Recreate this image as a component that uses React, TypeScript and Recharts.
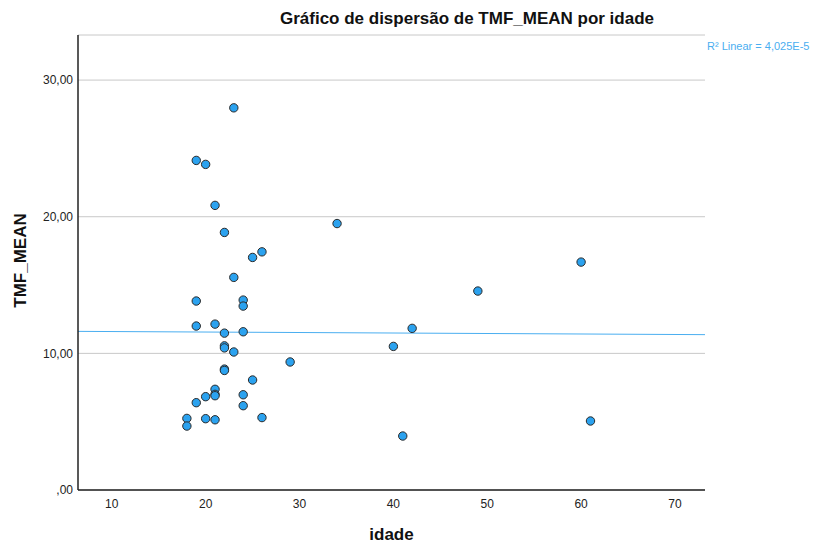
import {
  ReferenceLine,
  Scatter,
  ScatterChart,
  CartesianGrid,
  XAxis,
  YAxis,
} from "recharts";

// idade (age) of each subject
const idade = [
  23, 19, 20, 21, 22, 25, 26, 23, 19, 24, 24, 19, 21, 22, 24, 22, 22, 23, 29,
  22, 22, 25, 21, 21, 21, 20, 19, 24, 24, 26, 18, 18, 20, 21, 34, 60, 49, 42,
  40, 61, 41,
];

// TMF_MEAN for each subject (same order)
const tmfMean = [
  27.97, 24.12, 23.83, 20.83, 18.85, 17.02, 17.43, 15.56, 13.83, 13.9, 13.46,
  12.0, 12.14, 11.48, 11.58, 10.55, 10.4, 10.1, 9.37, 8.85, 8.75, 8.05, 7.37,
  7.0, 6.9, 6.83, 6.39, 6.97, 6.17, 5.3, 5.24, 4.68, 5.22, 5.14, 19.5, 16.68,
  14.56, 11.83, 10.51, 5.05, 3.95,
];

// linear fit line as it appears at both edges of the plot
const fitX = [6.4, 73.2];
const fitY = [11.61, 11.37];

const xTicks = [10, 20, 30, 40, 50, 60, 70];
const yTicks = [0, 10, 20, 30];

const points = idade.map((x, i) => ({ x, y: tmfMean[i] }));

const FONT = "'Liberation Sans', Arial, sans-serif";

const fmtY = (v: number) =>
  v === 0 ? ",00" : v.toFixed(2).replace(".", ",");

const Dot = (props: any) => (
  <circle
    cx={props.cx}
    cy={props.cy}
    r={4.2}
    fill="#2ba2ef"
    stroke="#2a2a2a"
    strokeWidth={1}
  />
);

export default function App() {
  return (
    <div
      style={{
        position: "absolute",
        left: 0,
        top: 0,
        width: 821,
        height: 545,
        background: "#fff",
        fontFamily: FONT,
      }}
    >
      <div
        style={{
          position: "absolute",
          left: 0,
          width: 934,
          top: 9,
          textAlign: "center",
          fontSize: 17,
          fontWeight: "bold",
          color: "#111",
        }}
      >
        Gráfico de dispersão de TMF_MEAN por idade
      </div>
      <div
        style={{
          position: "absolute",
          left: 707,
          top: 40,
          fontSize: 11,
          color: "#4aaef0",
          whiteSpace: "nowrap",
        }}
      >
        R² Linear = 4,025E-5
      </div>
      <ScatterChart
        width={821}
        height={545}
        margin={{ top: 35, right: 116, bottom: 0, left: 0 }}
      >
        <CartesianGrid
          horizontal
          vertical={false}
          stroke="#c8c8c8"
          strokeWidth={1}
        />
        <XAxis
          type="number"
          dataKey="x"
          domain={[6.4, 73.2]}
          ticks={xTicks}
          allowDataOverflow
          height={55}
          tickLine={false}
          tickSize={0}
          tickMargin={9}
          axisLine={{ stroke: "#222", strokeWidth: 1.5 }}
          tick={{ fill: "#222", fontSize: 12, fontFamily: FONT }}
          label={{
            content: (p: any) => (
              <text
                x={p.viewBox.x + p.viewBox.width / 2}
                y={p.viewBox.y + 50}
                textAnchor="middle"
                fontSize={17}
                fontWeight="bold"
                fontFamily={FONT}
                fill="#111"
              >
                idade
              </text>
            ),
          }}
        />
        <YAxis
          type="number"
          dataKey="y"
          domain={[0, 33.3]}
          ticks={yTicks}
          allowDataOverflow
          width={78}
          tickLine={false}
          tickSize={0}
          tickMargin={5}
          tickFormatter={fmtY}
          axisLine={{ stroke: "#222", strokeWidth: 1.5 }}
          tick={{ fill: "#222", fontSize: 12, fontFamily: FONT }}
          label={{
            content: (p: any) => {
              const cx = 26;
              const cy = p.viewBox.y + p.viewBox.height / 2 - 2;
              return (
                <text
                  x={cx}
                  y={cy}
                  transform={`rotate(-90 ${cx} ${cy})`}
                  textAnchor="middle"
                  fontSize={17}
                  fontWeight="bold"
                  fontFamily={FONT}
                  fill="#111"
                >
                  TMF_MEAN
                </text>
              );
            },
          }}
        />
        <ReferenceLine
          segment={[
            { x: fitX[0], y: fitY[0] },
            { x: fitX[1], y: fitY[1] },
          ]}
          stroke="#4aaef0"
          strokeWidth={1}
          ifOverflow="hidden"
        />
        <Scatter data={points} shape={Dot} isAnimationActive={false} />
      </ScatterChart>
    </div>
  );
}
